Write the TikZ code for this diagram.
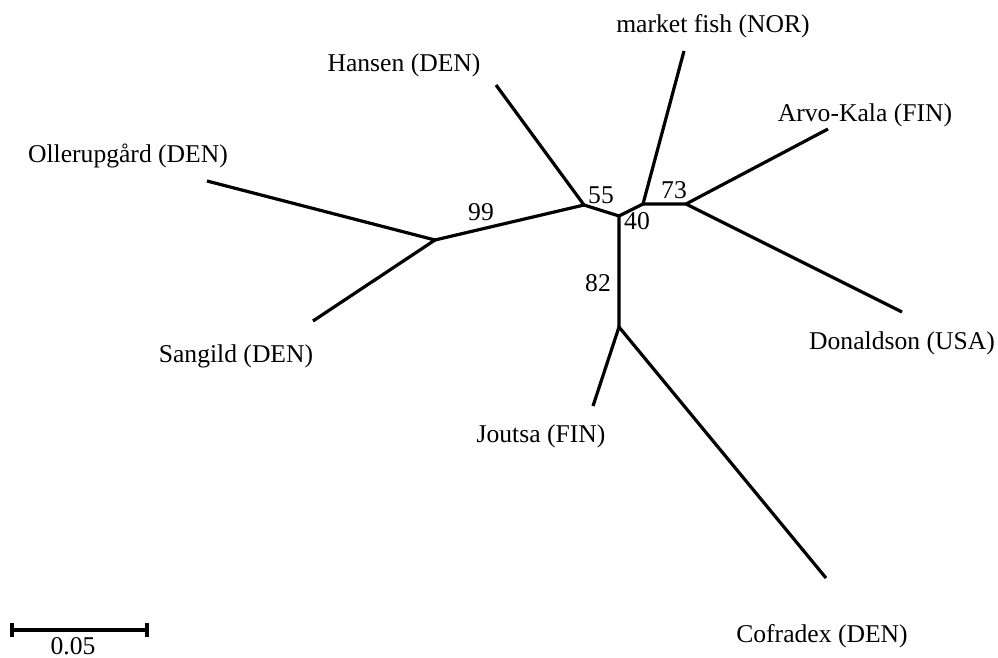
\documentclass[tikz,border=0pt]{standalone}
\usepackage{fontspec}
\setmainfont{Liberation Serif}
\begin{document}
\begin{tikzpicture}[x=0.5pt,y=-0.5pt,line width=1.6pt,
  lbl/.style={anchor=base,inner sep=0pt,font=\fontsize{12.8}{15}\selectfont}]
\useasboundingbox (0,0) rectangle (998,658);
% inner nodes of the tree
\coordinate (n99) at (435,240);
\coordinate (n55) at (584,205);
\coordinate (n40) at (619,216);
\coordinate (n73a) at (643,204);
\coordinate (n73) at (686,204);
\coordinate (n82) at (619,327);
% tips
\coordinate (oller) at (207,181);
\coordinate (sang) at (313,321);
\coordinate (hans) at (496,85);
\coordinate (mark) at (684,51);
\coordinate (arvo) at (828,129);
\coordinate (donal) at (902,312);
\coordinate (jout) at (593,406);
\coordinate (cofra) at (826,578);
\draw (oller) -- (n99) -- (sang);
\draw (n99) -- (n55) -- (hans);
\draw (n55) -- (n40) -- (n82);
\draw (n40) -- (n73a) -- (mark);
\draw (n73a) -- (n73) -- (arvo);
\draw (n73) -- (donal);
\draw (jout) -- (n82) -- (cofra);
% tip labels
\node[lbl] (loller) at (128,163) {Ollerupgård (DEN)};
\node[lbl] (lsang) at (236,363) {Sangild (DEN)};
\node[lbl] (lhans) at (404,72) {Hansen (DEN)};
\node[lbl] (lmark) at (713,33) {market fish (NOR)};
\node[lbl] (larvo) at (865,122) {Arvo-Kala (FIN)};
\node[lbl] (ldonal) at (902,350) {Donaldson (USA)};
\node[lbl] (ljout) at (541,443) {Joutsa (FIN)};
\node[lbl] (lcofra) at (822,642) {Cofradex (DEN)};
% bootstrap values
\node[lbl] (b99) at (481,221) {99};
\node[lbl] (b55) at (601,204) {55};
\node[lbl] (b40) at (637,230) {40};
\node[lbl] (b73) at (674,199) {73};
\node[lbl] (b82) at (598,292) {82};
% scale
\coordinate (sa) at (12,630);
\coordinate (sb) at (147,630);
\draw (sa) -- (sb);
\draw ([yshift=3.5pt]sa) -- ([yshift=-3.5pt]sa);
\draw ([yshift=3.5pt]sb) -- ([yshift=-3.5pt]sb);
\node[lbl] (lscale) at (73,654) {0.05};
\end{tikzpicture}
\end{document}
